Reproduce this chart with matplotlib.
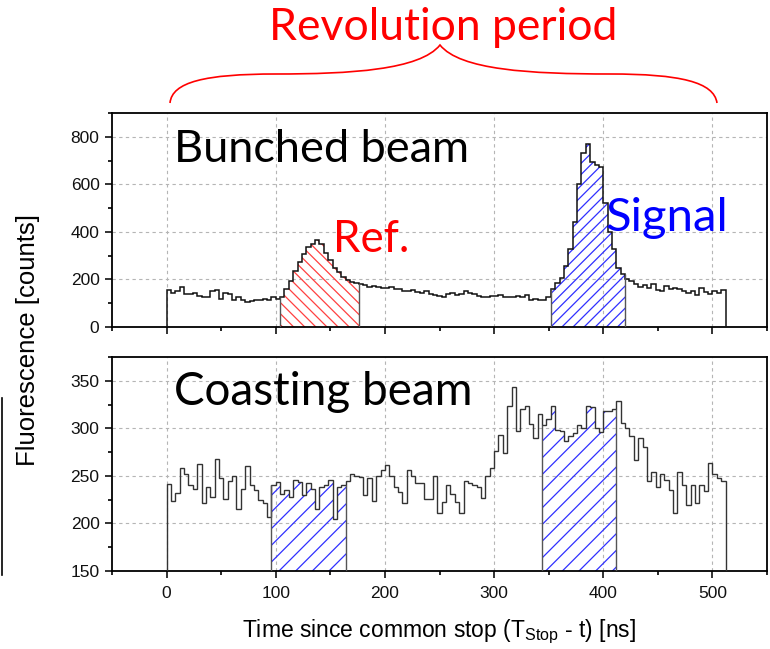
import numpy as np
import matplotlib.pyplot as plt
from matplotlib.path import Path
from matplotlib.patches import PathPatch
from matplotlib.lines import Line2D
from matplotlib.ticker import MultipleLocator

plt.rcParams['font.family'] = ['Liberation Sans', 'DejaVu Sans']
plt.rcParams['mathtext.fontset'] = 'custom'
plt.rcParams['mathtext.rm'] = 'Liberation Sans'
plt.rcParams['hatch.linewidth'] = 0.9

# time bins (ns)
bin_edges = np.arange(0, 513, 4)

# bunched beam counts per bin
bunched = np.array(
    [155, 145, 150, 170, 140, 138, 145, 130, 128, 128, 150, 155, 118, 145, 140, 115, 125, 115, 105, 110,
     112, 115, 118, 112, 125, 118,
     128, 160, 195, 235, 275, 305, 335, 350, 366, 350, 310, 280, 250, 230, 210, 198, 190, 186,
     182, 178, 170, 172, 168, 165, 162, 170, 160, 158, 152, 150, 155, 148, 145, 150, 140, 135, 130, 128,
     140, 145, 135, 138, 150, 142, 138, 130, 125, 128, 130, 132, 135, 128, 125,
     128, 130, 125, 135, 115, 118, 112, 112, 125,
     160, 185, 205, 255, 330, 440, 600, 730, 770, 696, 682, 675, 520, 400, 330, 250, 222, 200,
     195, 180, 170, 175, 165, 180, 155, 150, 172, 160, 162, 158, 150, 145, 150, 135, 165, 148, 138, 150,
     145, 155])

# coasting beam counts per bin
coasting = np.array(
    [241, 224, 232, 258, 252, 240, 236, 262, 222, 238, 228, 268, 248, 226, 245, 250, 215, 236, 260, 240,
     235, 225, 222, 207,
     240, 244, 231, 235, 228, 246, 244, 230, 242, 236, 215, 238, 240, 246, 205, 238, 240,
     245, 252, 250, 249, 230, 248, 224, 250, 256, 261, 250, 238, 233, 222, 256, 250, 242, 242, 226, 226,
     250, 211, 223, 240,
     231, 223, 211, 245, 243, 240, 238, 227, 250, 258, 276, 293, 274, 324, 343, 297, 320, 323, 305, 290,
     315,
     303, 310, 323, 298, 297, 287, 292, 295, 304, 300, 323, 322, 300, 296, 318, 318, 320,
     329, 306, 300, 292, 267, 290, 280, 245, 254, 238, 252, 246, 235, 211, 254, 240, 219, 240, 221, 240,
     234, 264, 252, 248, 245])

# integration windows (ns)
ref_window = (104, 176)
signal_window = (352, 420)
coast_bg_window = (96, 164)
coast_sig_window = (344, 412)

W, H = 770, 649
dpi = 100
fig = plt.figure(figsize=(W / dpi, H / dpi), dpi=dpi)


def px(x, y):
    return x / W, 1 - y / H


ax1 = fig.add_axes([112 / W, 1 - 327 / H, 655 / W, 214 / H])
ax2 = fig.add_axes([112 / W, 1 - 571 / H, 655 / W, 214 / H])


def draw_hist(ax, counts, base, color, lw):
    ax.stairs(counts, bin_edges, baseline=base, color=color, lw=lw, zorder=3)


def hatch_window(ax, counts, base, window, color, hatch):
    i0 = np.searchsorted(bin_edges, window[0])
    i1 = np.searchsorted(bin_edges, window[1])
    xs = bin_edges[i0:i1 + 1]
    ys = np.append(counts[i0:i1], counts[i1 - 1])
    ax.fill_between(xs, base, ys, step='post', facecolor='none', edgecolor=color,
                    hatch=hatch, lw=0, zorder=2)
    ax.vlines([window[0], window[1]], base, [counts[i0], counts[i1 - 1]],
              color='#555555', lw=1.0, zorder=3)


draw_hist(ax1, bunched, 0, '#111111', 1.1)
hatch_window(ax1, bunched, 0, ref_window, '#ff4040', '\\\\\\')
hatch_window(ax1, bunched, 0, signal_window, '#3030ff', '///')

draw_hist(ax2, coasting, 150, '#333333', 1.0)
hatch_window(ax2, coasting, 150, coast_bg_window, '#3030ff', '//')
hatch_window(ax2, coasting, 150, coast_sig_window, '#3030ff', '//')

ax1.set_ylim(0, 900)
ax1.yaxis.set_major_locator(MultipleLocator(200))
ax1.yaxis.set_minor_locator(MultipleLocator(100))
ax2.set_ylim(150, 375)
ax2.yaxis.set_major_locator(MultipleLocator(50))
ax2.yaxis.set_minor_locator(MultipleLocator(25))

for ax in (ax1, ax2):
    ax.set_xlim(-50, 550)
    ax.xaxis.set_major_locator(MultipleLocator(100))
    ax.xaxis.set_minor_locator(MultipleLocator(50))
    ax.grid(True, which='major', ls=(0, (3, 3)), color='#b5b5b5', lw=0.8, zorder=0)
    ax.tick_params(which='major', direction='out', length=5, width=1.2, labelsize=12.5,
                   colors='#111111', top=False, right=False, pad=4)
    ax.tick_params(which='minor', direction='out', length=3, width=1.2, top=False, right=False)
    for s in ax.spines.values():
        s.set_linewidth(1.3)
    ax.set_axisbelow(True)

ax1.tick_params(labelbottom=False)
ax2.tick_params(axis='x', pad=6)

text_font = ['Lato', 'DejaVu Sans']
ax1.text(7, 745, 'Bunched beam', fontsize=32.5, family=text_font, va='center', ha='left')
ax1.text(152, 366, 'Ref.', fontsize=31.5, color='red', family=text_font, va='center', ha='left')
ax1.text(402, 459, 'Signal', fontsize=34, color='blue', family=text_font, va='center', ha='left')
ax2.text(7, 338, 'Coasting beam', fontsize=33, family=text_font, va='center', ha='left')

fig.text(*px(443, 28), 'Revolution period', fontsize=32, color='red', family=text_font,
         ha='center', va='center')

# curly brace over the time axis
brace = [(170, 103), (172, 82), (205, 74), (276, 74),
         (350, 74), (420, 70), (440, 45),
         (460, 70), (530, 74), (610, 74),
         (680, 74), (714, 82), (717, 103)]
codes = [Path.MOVETO] + [Path.CURVE4] * 12
verts = [px(x, y) for x, y in brace]
fig.patches.append(PathPatch(Path(verts, codes), transform=fig.transFigure,
                             facecolor='none', edgecolor='red', lw=1.2))

fig.text(*px(28, 340), 'Fluorescence [counts]', rotation=90, fontsize=18.5,
         ha='center', va='center')
fig.text(*px(439, 632), 'Time since common stop (T$_\\mathrm{Stop}$ - t) [ns]', fontsize=16.5,
         ha='center', va='center')

fig.lines.append(Line2D([2 / W, 2 / W], [1 - 398 / H, 1 - 575 / H], transform=fig.transFigure,
                        color='black', lw=1.2))

fig.savefig('out.png', dpi=dpi)
